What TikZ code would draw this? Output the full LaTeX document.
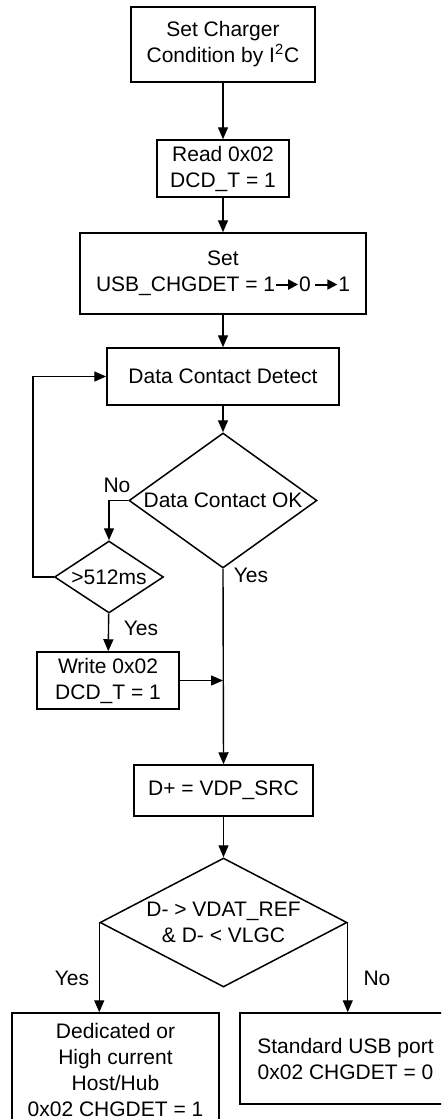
\documentclass[tikz,border=0pt]{standalone}
\usepackage{fontspec}
\setmainfont{Liberation Sans}
\usetikzlibrary{shapes,arrows.meta,positioning}

\newcommand{\steparrow}{\tikz[baseline=-3.6pt, x=1pt, y=1pt]\draw[-{Triangle[length=5pt,width=5pt]}, line width=1pt] (0,0) -- (11,0);}

\begin{document}
\begin{tikzpicture}[
    x=0.5pt, y=-0.5pt,
    font=\fontsize{10.5}{13}\selectfont,
    process/.style={rectangle, draw, line width=0.75pt, align=center, inner sep=0pt},
    decision/.style={diamond, draw, line width=0.75pt, inner sep=0pt},
    arrow/.style={-{Triangle[length=6pt,width=5pt]}, line width=0.7pt},
    answer/.style={inner sep=1pt}
]
    \clip (0,0) rectangle (441,1119);

    % Main column
    \node[process, minimum width=92pt, minimum height=37.5pt] (cond) at (223,44.5) {Set Charger\\Condition by I\textsuperscript{2}C};
    \node[process, minimum width=66pt, minimum height=28.5pt] (read) at (223,168.5) {Read 0x02\\DCD\_T = 1};
    \node[process, minimum width=143pt, minimum height=40.5pt] (toggle) at (223,273.5) {Set\\USB\_CHGDET = 1\steparrow0\,\steparrow1};
    \node[process, minimum width=116pt, minimum height=28.5pt] (dcd) at (223,376.5) {Data Contact Detect};
    \node[decision, minimum width=94pt, minimum height=67.5pt, label=center:{Data Contact OK}] (dcok) at (223,500.5) {};

    % Timeout branch
    \node[decision, minimum width=54.5pt, minimum height=36pt, label=center:{>512ms}] (timeout) at (109,577) {};
    \node[process, minimum width=71pt, minimum height=28.5pt] (write) at (108,680.5) {Write 0x02\\DCD\_T = 1};
    \coordinate (loop) at (33,577);

    % Primary detection
    \node[process, minimum width=89.5pt, minimum height=25.5pt] (vdp) at (223.5,790.5) {D+ = VDP\_SRC};
    \node[decision, minimum width=123.5pt, minimum height=64.5pt, label={[align=center]center:{D- > VDAT\_REF\\\& D- < VLGC}}] (vdat) at (223.5,922.5) {};

    % Results
    \node[process, minimum width=103.5pt, minimum height=57pt] (host) at (115.5,1070) {Dedicated or\\High current\\Host/Hub\\0x02 CHGDET = 1};
    \node[process, minimum width=105.5pt, minimum height=45.5pt] (sdp) at (345.5,1058.5) {Standard USB port\\0x02 CHGDET = 0};

    % Arrows
    \draw[arrow] (cond) -- (read);
    \draw[arrow] (read) -- (toggle);
    \draw[arrow] (toggle) -- (dcd);
    \draw[arrow] (dcd) -- (dcok);
    \draw[arrow] (dcok.west) -| (timeout.north);
    \draw[arrow] (timeout.west) -- (loop) |- (dcd.west);
    \draw[arrow] (timeout) -- (write);
    \draw[arrow] (write.east) -- (write.east -| dcok.south);
    \draw[arrow] (dcok.south) -- (vdp.north);
    \draw[arrow] (vdp) -- (vdat);
    \draw[arrow] (vdat.west) -- (vdat.west |- host.north);
    \draw[arrow] (vdat.east) -- (vdat.east |- sdp.north);

    % Labels
    \node[answer] (no1) at (117,485) {No};
    \node[answer] (yes1) at (251,575) {Yes};
    \node[answer] (yes2) at (141,628) {Yes};
    \node[answer] (yes3) at (72,978) {Yes};
    \node[answer] (no2) at (377,978) {No};
\end{tikzpicture}
\end{document}
